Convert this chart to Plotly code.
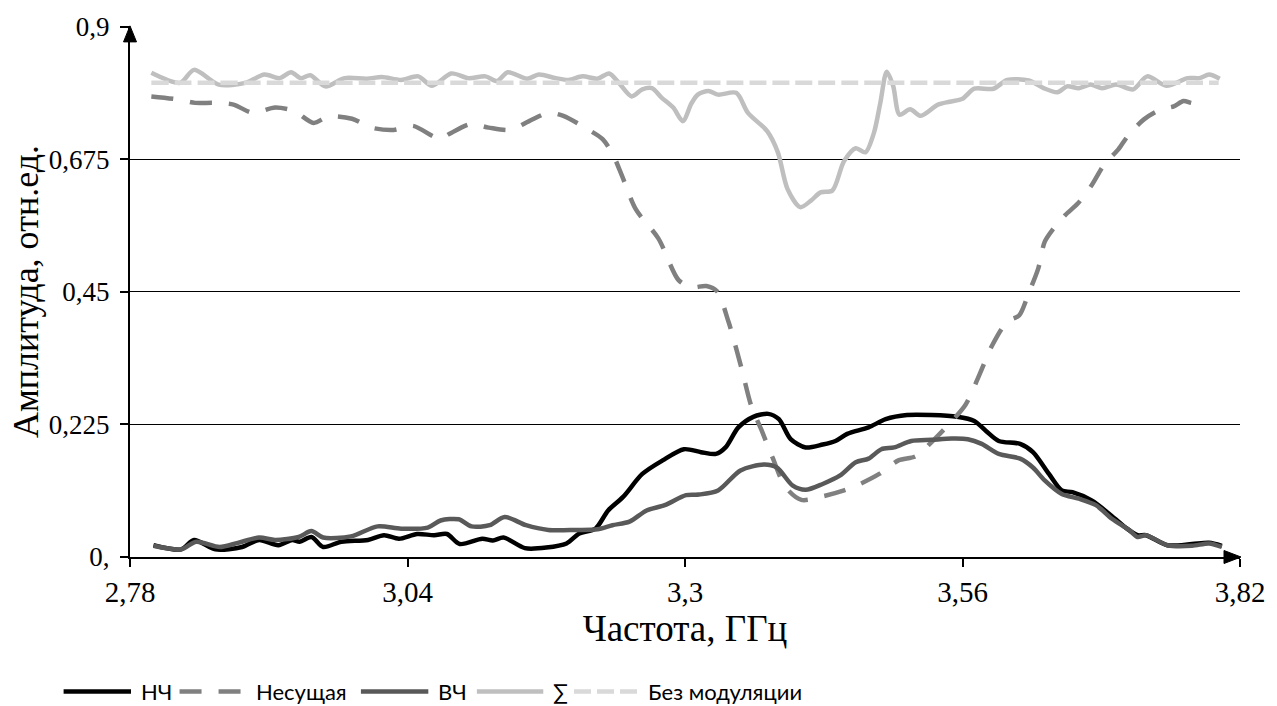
import plotly.graph_objects as go

# Частота, ГГц / амплитуда, отн.ед.
f_nch = [2.802, 2.828, 2.840, 2.860, 2.885, 2.901, 2.919, 2.932, 2.939, 2.950, 2.961, 2.978,
         3.003, 3.018, 3.032, 3.049, 3.065, 3.077, 3.089, 3.110, 3.120, 3.130, 3.150, 3.170,
         3.189, 3.201, 3.216, 3.228, 3.242, 3.260, 3.279, 3.299, 3.315, 3.329, 3.338, 3.350,
         3.364, 3.378, 3.388, 3.399, 3.413, 3.429, 3.441, 3.452, 3.472, 3.488, 3.508, 3.531,
         3.555, 3.571, 3.582, 3.594, 3.614, 3.626, 3.641, 3.653, 3.663, 3.681, 3.697, 3.712,
         3.724, 3.732, 3.752, 3.775, 3.791, 3.803]
a_nch = [0.020, 0.013, 0.029, 0.013, 0.017, 0.029, 0.020, 0.029, 0.026, 0.034, 0.017, 0.026,
         0.029, 0.037, 0.031, 0.039, 0.037, 0.039, 0.022, 0.031, 0.028, 0.033, 0.015, 0.016,
         0.023, 0.040, 0.048, 0.079, 0.102, 0.141, 0.164, 0.183, 0.178, 0.175, 0.186, 0.220,
         0.238, 0.243, 0.234, 0.200, 0.186, 0.191, 0.197, 0.209, 0.220, 0.234, 0.241, 0.241,
         0.238, 0.231, 0.214, 0.197, 0.192, 0.178, 0.141, 0.113, 0.110, 0.096, 0.074, 0.051,
         0.037, 0.037, 0.020, 0.022, 0.024, 0.019]

f_carrier = [2.800, 2.824, 2.841, 2.859, 2.877, 2.895, 2.916, 2.934, 2.952, 2.966, 2.988, 3.006,
             3.027, 3.045, 3.063, 3.070, 3.079, 3.099, 3.116, 3.136, 3.154, 3.172, 3.186, 3.207,
             3.223, 3.233, 3.241, 3.254, 3.275, 3.294, 3.306, 3.320, 3.330, 3.341, 3.353, 3.362,
             3.372, 3.382, 3.394, 3.409, 3.429, 3.449, 3.464, 3.482, 3.500, 3.516, 3.531, 3.547,
             3.563, 3.576, 3.588, 3.602, 3.613, 3.622, 3.631, 3.637, 3.645, 3.656, 3.668, 3.681,
             3.693, 3.706, 3.715, 3.730, 3.746, 3.758, 3.767, 3.774, 3.785]
a_carrier = [0.782, 0.777, 0.771, 0.771, 0.768, 0.754, 0.763, 0.757, 0.737, 0.748, 0.744, 0.729,
             0.725, 0.732, 0.715, 0.709, 0.718, 0.735, 0.729, 0.725, 0.740, 0.754, 0.749, 0.728,
             0.709, 0.681, 0.647, 0.590, 0.541, 0.470, 0.458, 0.460, 0.451, 0.398, 0.320, 0.257,
             0.214, 0.169, 0.119, 0.097, 0.103, 0.113, 0.124, 0.141, 0.164, 0.171, 0.195, 0.225,
             0.259, 0.310, 0.360, 0.400, 0.410, 0.448, 0.490, 0.535, 0.557, 0.580, 0.600, 0.631,
             0.667, 0.692, 0.715, 0.743, 0.760, 0.765, 0.774, 0.771, 0.766]

f_vch = [2.802, 2.828, 2.842, 2.864, 2.881, 2.901, 2.916, 2.938, 2.950, 2.961, 2.987, 3.012,
         3.034, 3.059, 3.071, 3.088, 3.100, 3.117, 3.131, 3.151, 3.172, 3.198, 3.218, 3.232,
         3.248, 3.264, 3.281, 3.301, 3.313, 3.331, 3.352, 3.374, 3.386, 3.401, 3.413, 3.429,
         3.445, 3.460, 3.472, 3.484, 3.496, 3.512, 3.531, 3.550, 3.565, 3.578, 3.594, 3.614,
         3.626, 3.637, 3.653, 3.669, 3.685, 3.700, 3.716, 3.724, 3.732, 3.752, 3.775, 3.791,
         3.803]
a_vch = [0.019, 0.013, 0.026, 0.017, 0.024, 0.033, 0.029, 0.034, 0.044, 0.033, 0.035, 0.052,
         0.048, 0.050, 0.062, 0.064, 0.052, 0.054, 0.068, 0.054, 0.046, 0.046, 0.047, 0.054,
         0.060, 0.079, 0.088, 0.105, 0.106, 0.113, 0.147, 0.157, 0.152, 0.121, 0.114, 0.124,
         0.138, 0.161, 0.167, 0.183, 0.186, 0.197, 0.199, 0.201, 0.200, 0.192, 0.175, 0.167,
         0.152, 0.130, 0.107, 0.099, 0.088, 0.065, 0.046, 0.034, 0.037, 0.020, 0.019, 0.023,
         0.017]

f_sum = [2.800, 2.827, 2.840, 2.863, 2.888, 2.906, 2.920, 2.931, 2.940, 2.949, 2.963, 2.981,
         3.002, 3.016, 3.034, 3.050, 3.063, 3.081, 3.097, 3.113, 3.124, 3.134, 3.152, 3.163,
         3.179, 3.191, 3.204, 3.218, 3.229, 3.238, 3.250, 3.260, 3.269, 3.278, 3.289, 3.298,
         3.306, 3.312, 3.322, 3.331, 3.348, 3.359, 3.377, 3.387, 3.396, 3.408, 3.418, 3.427,
         3.438, 3.449, 3.460, 3.469, 3.477, 3.483, 3.489, 3.495, 3.501, 3.511, 3.521, 3.537,
         3.548, 3.560, 3.571, 3.589, 3.602, 3.622, 3.636, 3.649, 3.658, 3.669, 3.680, 3.691,
         3.704, 3.720, 3.733, 3.751, 3.771, 3.782, 3.791, 3.801]
a_sum = [0.822, 0.805, 0.827, 0.802, 0.805, 0.819, 0.813, 0.823, 0.813, 0.818, 0.799, 0.813,
         0.812, 0.815, 0.810, 0.816, 0.800, 0.821, 0.813, 0.816, 0.808, 0.823, 0.812, 0.819,
         0.813, 0.810, 0.816, 0.812, 0.821, 0.805, 0.782, 0.794, 0.796, 0.780, 0.763, 0.740,
         0.770, 0.785, 0.791, 0.785, 0.788, 0.754, 0.723, 0.687, 0.625, 0.594, 0.605, 0.619,
         0.622, 0.672, 0.694, 0.687, 0.720, 0.771, 0.824, 0.800, 0.751, 0.760, 0.749, 0.768,
         0.773, 0.778, 0.795, 0.795, 0.810, 0.809, 0.796, 0.789, 0.799, 0.796, 0.802, 0.796,
         0.802, 0.794, 0.816, 0.800, 0.813, 0.813, 0.819, 0.812]

f_ref = [2.80, 3.00, 3.20, 3.40, 3.60, 3.80]
a_ref = [0.805, 0.805, 0.805, 0.805, 0.805, 0.805]

x_ticks = [2.78, 3.04, 3.3, 3.56, 3.82]
x_labels = ["2,78", "3,04", "3,3", "3,56", "3,82"]
y_ticks = [0, 0.225, 0.45, 0.675, 0.9]
y_labels = ["0,", "0,225", "0,45", "0,675", "0,9"]

series = [
    ("НЧ", f_nch, a_nch, "#000000", "solid"),
    ("Несущая", f_carrier, a_carrier, "#808080", "22px,17px"),
    ("ВЧ", f_vch, a_vch, "#595959", "solid"),
    ("∑", f_sum, a_sum, "#bfbfbf", "solid"),
    ("Без модуляции", f_ref, a_ref, "#d9d9d9", "17px,6px"),
]

LINE_W = 4.5
fig = go.Figure()
for name, xs, ys, color, dash in series:
    fig.add_trace(go.Scatter(
        x=xs, y=ys, name=name, mode="lines", showlegend=False,
        line=dict(color=color, width=LINE_W, dash=dash, shape="spline", smoothing=0.8),
    ))

serif = "Liberation Serif"
W, H = 1277, 706
ML, MR, MT, MB = 130, 27, 24, 149
PW, PH = W - ML - MR, H - MT - MB


def px_to_paper(px, py):
    return (px - ML) / PW, (H - MB - py) / PH


# Legend row under the chart: line sample followed by its label
legend_samples = [(63, 131), (180, 247), (363, 431), (480, 547), (578, 643)]
legend_y = 692
for (name, _, _, color, dash), (s0, s1) in zip(series, legend_samples):
    x0, yy = px_to_paper(s0, legend_y)
    x1, _ = px_to_paper(s1, legend_y)
    fig.add_shape(type="line", xref="paper", yref="paper", x0=x0, x1=x1, y0=yy, y1=yy,
                  line=dict(color=color, width=LINE_W, dash=dash))
    tx, _ = px_to_paper(s1 + 8, legend_y)
    fig.add_annotation(x=tx, y=yy, xref="paper", yref="paper", text=name, showarrow=False,
                       xanchor="left", yanchor="middle",
                       font=dict(family="Lato, Noto Sans, sans-serif", size=22, color="#000000"))

# Vertical axis title
ytx, yty = px_to_paper(25, 290)
fig.add_annotation(x=ytx, y=yty, xref="paper", yref="paper", text="Амплитуда, отн.ед.",
                   showarrow=False, textangle=-90, xanchor="center", yanchor="middle",
                   font=dict(family=serif, size=36, color="#000000"))

fig.update_layout(
    width=W, height=H,
    margin=dict(l=ML, r=MR, t=MT, b=MB),
    paper_bgcolor="white", plot_bgcolor="white",
    showlegend=False,
    xaxis=dict(
        range=[2.78, 3.82], tickmode="array", tickvals=x_ticks, ticktext=x_labels,
        showgrid=False, zeroline=False,
        showline=True, linecolor="#000000", linewidth=2,
        ticks="outside", ticklen=8, tickwidth=2, tickcolor="#000000",
        tickfont=dict(family=serif, size=29, color="#000000"),
        title=dict(text="Частота, ГГц", font=dict(family=serif, size=37, color="#000000"),
                   standoff=4),
    ),
    yaxis=dict(
        range=[0, 0.9015], tickmode="array", tickvals=y_ticks, ticktext=y_labels,
        showgrid=True, gridcolor="#000000", gridwidth=1.4, zeroline=False,
        showline=True, linecolor="#000000", linewidth=2,
        ticks="outside", ticklen=8, tickwidth=2, tickcolor="#000000",
        ticklabelstandoff=5,
        tickfont=dict(family=serif, size=27, color="#000000"),
    ),
)

# Axis arrowheads (paper-referenced so they are not clipped at the plot edge)
fig.add_shape(type="path", xref="paper", yref="paper", xsizemode="pixel", ysizemode="pixel",
              xanchor=1, yanchor=0, path="M -16 6.5 L 1 0 L -16 -6.5 Z",
              fillcolor="#000000", line=dict(color="#000000", width=1), layer="above")
fig.add_shape(type="path", xref="paper", yref="paper", xsizemode="pixel", ysizemode="pixel",
              xanchor=0, yanchor=0.9 / 0.9015, path="M -6.5 -15 L 0 1 L 6.5 -15 Z",
              fillcolor="#000000", line=dict(color="#000000", width=1), layer="above")

fig.write_html("out.html")
